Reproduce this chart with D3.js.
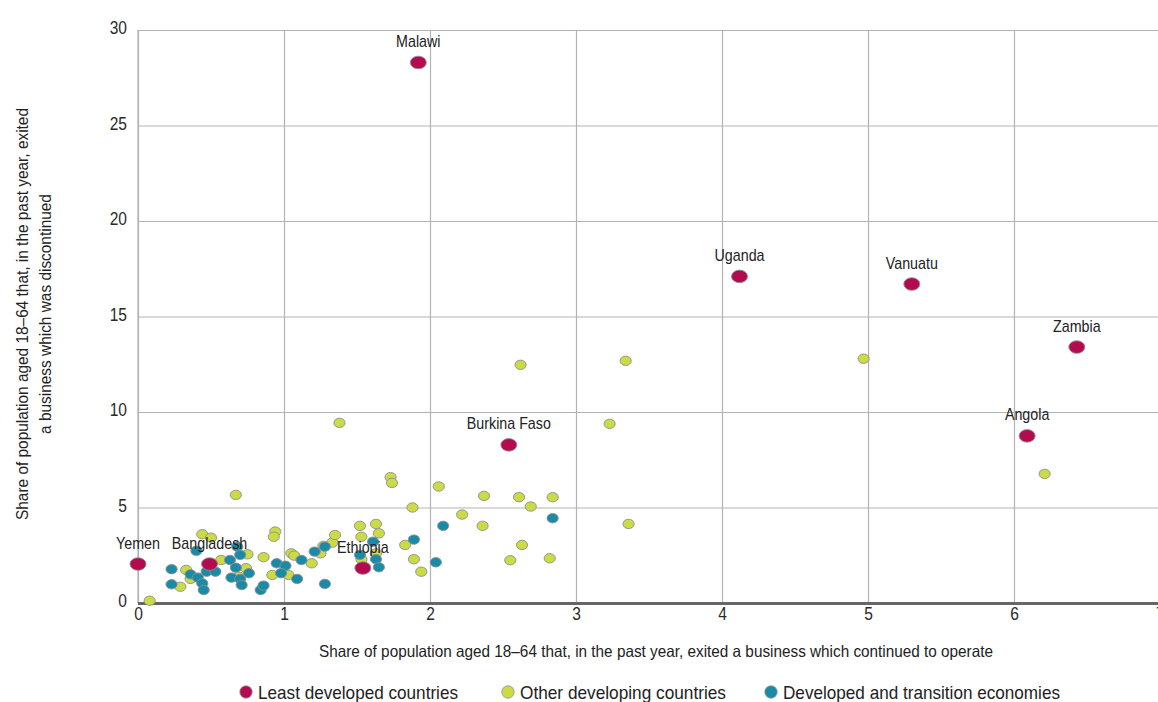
<!DOCTYPE html>
<html><head><meta charset="utf-8">
<script src="https://cdn.jsdelivr.net/npm/d3@7"></script>
<style>
body{margin:0;background:#fff;overflow:hidden}
text{font-family:"Liberation Sans Narrow","Liberation Sans",Arial,sans-serif}
</style>
</head><body>
<svg id="c" width="1158" height="702"></svg>
<script>
// ---- DATA ----
const seriesNames = ["Least developed countries", "Other developing countries", "Developed and transition economies"];
const ldcNames = ["Malawi","Uganda","Vanuatu","Zambia","Angola","Burkina Faso","Yemen","Bangladesh","Ethiopia"];
const ldcX = [1.92, 4.12, 5.30, 6.43, 6.09, 2.54, 0.00, 0.49, 1.54];
const ldcY = [28.3, 17.1, 16.7, 13.4, 8.75, 8.28, 2.04, 2.04, 1.83];
const odcX = [0.08,0.29,0.33,0.36,0.44,0.50,0.57,0.67,0.69,0.74,0.75,0.86,0.94,0.93,0.92,1.03,1.05,1.07,1.19,1.25,1.27,1.33,1.35,1.38,1.52,1.53,1.53,1.63,1.65,1.63,1.73,1.74,1.83,1.88,1.89,1.94,2.06,2.22,2.36,2.37,2.55,2.61,2.63,2.62,2.69,2.82,2.84,3.23,3.34,3.36,4.97,6.21];
const odcY = [0.12,0.85,1.73,1.26,3.60,3.42,2.25,5.66,1.38,1.82,2.55,2.40,3.74,3.47,1.47,1.47,2.60,2.48,2.08,2.60,2.99,3.16,3.56,9.43,4.04,3.47,2.29,4.14,3.65,2.60,6.59,6.29,3.04,5.00,2.29,1.64,6.10,4.63,4.04,5.61,2.24,5.54,3.04,12.47,5.05,2.34,5.54,9.38,12.68,4.14,12.79,6.76];
const dteX = [0.23,0.23,0.36,0.40,0.41,0.44,0.45,0.47,0.53,0.63,0.68,0.70,0.67,0.64,0.70,0.71,0.76,0.84,0.86,0.95,1.01,0.98,1.12,1.09,1.21,1.28,1.28,1.52,1.61,1.63,1.65,1.89,2.04,2.09,2.84];
const dteY = [1.77,0.98,1.50,2.73,1.33,1.03,0.68,1.64,1.64,2.25,2.95,2.52,1.85,1.33,1.26,0.94,1.56,0.68,0.91,2.08,1.95,1.56,2.25,1.26,2.69,2.95,1.00,2.52,3.21,2.29,1.87,3.32,2.13,4.04,4.44];
const xTicks = [0,1,2,3,4,5,6,7];
const yTicks = [0,5,10,15,20,25,30];
const xTitle = "Share of population aged 18–64 that, in the past year, exited a business which continued to operate";
const yTitle1 = "Share of population aged 18–64  that, in the past year, exited";
const yTitle2 = "a business which was discontinued";

// ---- STYLE ----
const colors = ["#b30a50", "#cadb45", "#1a8ba6"];
const svg = d3.select("#c");
const x = d3.scaleLinear().domain([0,7]).range([138,1160]);
const y = d3.scaleLinear().domain([0,30]).range([603,30]);

// condense text horizontally to mimic a narrow typeface
function narrow(sel, factor){
  sel.each(function(){
    const w = this.getComputedTextLength();
    d3.select(this).attr("textLength", w*factor).attr("lengthAdjust","spacingAndGlyphs");
  });
}
function fitTo(sel, target){
  sel.attr("textLength", target).attr("lengthAdjust","spacingAndGlyphs");
}

// grid via axes
const gx = svg.append("g").attr("transform",`translate(0,${y(0)})`)
  .call(d3.axisBottom(x).tickValues(xTicks).tickSize(-(y(0)-y(30))).tickPadding(8).tickFormat(d3.format("d")));
gx.select(".domain").remove();
gx.selectAll(".tick line").attr("stroke","#b3b3b3").attr("stroke-width",1.2);
gx.selectAll(".tick text").attr("font-size",18.5).attr("fill","#2a2a2a").attr("font-family",null).attr("dy","0.62em").attr("y",6);
narrow(gx.selectAll(".tick text"), 0.84);

const gy = svg.append("g").attr("transform",`translate(${x(0)},0)`)
  .call(d3.axisLeft(y).tickValues(yTicks).tickSize(-(x(7)-x(0))).tickPadding(11).tickFormat(d3.format("d")));
gy.select(".domain").remove();
gy.selectAll(".tick line").attr("stroke","#b3b3b3").attr("stroke-width",1.2);
gy.selectAll(".tick text").attr("font-size",18.5).attr("fill","#2a2a2a").attr("font-family",null).attr("dy","0.2em");
narrow(gy.selectAll(".tick text"), 0.84);

// left axis line and bottom axis
svg.append("line").attr("x1",x(0)).attr("x2",x(0)).attr("y1",y(30)).attr("y2",y(0)).attr("stroke","#b3b3b3").attr("stroke-width",1.2);
svg.append("line").attr("x1",x(0)).attr("x2",1158).attr("y1",y(0)+0.5).attr("y2",y(0)+0.5).attr("stroke","#666").attr("stroke-width",3);

// points
const odc = odcX.map((v,i)=>({x:v,y:odcY[i]}));
const dte = dteX.map((v,i)=>({x:v,y:dteY[i]}));
const ldc = ldcX.map((v,i)=>({x:v,y:ldcY[i],name:ldcNames[i]}));

svg.append("g").selectAll("ellipse").data(odc).join("ellipse")
  .attr("cx",d=>x(d.x)).attr("cy",d=>y(d.y)).attr("rx",5.6).attr("ry",4.7)
  .attr("fill",colors[1]).attr("stroke","#8f8f8f").attr("stroke-width",0.9);
svg.append("g").selectAll("ellipse").data(dte).join("ellipse")
  .attr("cx",d=>x(d.x)).attr("cy",d=>y(d.y)).attr("rx",5.6).attr("ry",4.7)
  .attr("fill",colors[2]).attr("stroke","#8f8f8f").attr("stroke-width",0.9);
svg.append("g").selectAll("ellipse").data(ldc).join("ellipse")
  .attr("cx",d=>x(d.x)).attr("cy",d=>y(d.y)).attr("rx",8).attr("ry",6.3)
  .attr("fill",colors[0]).attr("stroke","#8f8f8f").attr("stroke-width",0.9);
const lbl = svg.append("g").selectAll("text").data(ldc).join("text")
  .attr("x",d=>x(d.x)).attr("y",d=>y(d.y)-15.5).attr("text-anchor","middle")
  .attr("font-size",17).attr("fill","#222").text(d=>d.name);
narrow(lbl, 0.84);

// axis titles
const xt = svg.append("text").attr("x",656).attr("y",657).attr("text-anchor","middle")
  .attr("font-size",16.5).attr("fill","#222").text(xTitle);
fitTo(xt, 674);
const yt = svg.append("g").attr("transform","translate(0,314) rotate(-90)");
const yt1 = yt.append("text").attr("x",0).attr("y",28).attr("text-anchor","middle").attr("font-size",16.5).attr("fill","#222").text(yTitle1);
fitTo(yt1, 412);
const yt2 = yt.append("text").attr("x",0).attr("y",51).attr("text-anchor","middle").attr("font-size",16.5).attr("fill","#222").text(yTitle2);
narrow(yt2, yt1.attr("textLength")/ (function(){ const t=yt.append("text").attr("font-size",16.5).text(yTitle1); const w=t.node().getComputedTextLength(); t.remove(); return w; })());

// legend
const legX = [246, 508, 771];
const legW = [200, 206, 277];
const lg = svg.append("g");
seriesNames.forEach((n,i)=>{
  lg.append("circle").attr("cx",legX[i]).attr("cy",692).attr("r",6.2).attr("fill",colors[i]).attr("stroke","#8f8f8f").attr("stroke-width",0.8);
  const t = lg.append("text").attr("x",legX[i]+12).attr("y",699).attr("font-size",19).attr("fill","#222").text(n);
  fitTo(t, legW[i]);
});
</script>
</body></html>
